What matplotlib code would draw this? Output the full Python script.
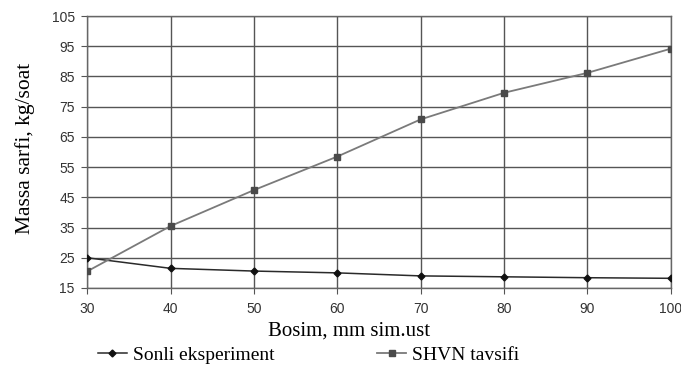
import matplotlib
matplotlib.use("Agg")
import matplotlib.pyplot as plt

pressure = [30, 40, 50, 60, 70, 80, 90, 100]
sonli = [25.0, 21.5, 20.6, 20.0, 19.0, 18.7, 18.4, 18.2]
shvn = [20.5, 35.5, 47.4, 58.5, 70.8, 79.6, 86.2, 94.2]
yticks = [15, 25, 35, 45, 55, 65, 75, 85, 95, 105]
xticks = [30, 40, 50, 60, 70, 80, 90, 100]

fig = plt.figure(figsize=(6.81, 3.65), dpi=100)
ax = fig.add_axes([0.128, 0.211, 0.857, 0.745])

l1, = ax.plot(pressure, sonli, color="#2a2a2a", lw=1.1, marker="D", ms=3.5,
              mfc="#111111", mec="#111111", label="Sonli eksperiment", zorder=3)
l2, = ax.plot(pressure, shvn, color="#7a7a7a", lw=1.3, marker="s", ms=5,
              mfc="#4a4a4a", mec="#4a4a4a", label="SHVN tavsifi", zorder=3)

ax.set_xlim(30, 100)
ax.set_ylim(15, 105)
ax.set_xticks(xticks)
ax.set_yticks(yticks)
ax.grid(True, color="#555555", lw=1.0)
for s in ax.spines.values():
    s.set_color("#666666")
    s.set_linewidth(1.0)
ax.tick_params(axis="both", length=4, color="#555555", labelcolor="#333333",
               labelsize=10)
ax.tick_params(axis="x", pad=6)
ax.tick_params(axis="y", pad=5)
for lab in ax.get_xticklabels() + ax.get_yticklabels():
    lab.set_family("Liberation Sans")

fig.text(349 / 681, 1 - 331 / 365, "Bosim, mm sim.ust", family="Liberation Serif",
         fontsize=15, ha="center", va="center")
fig.text(25 / 681, 1 - 148 / 365, "Massa sarfi, kg/soat", family="Liberation Serif",
         fontsize=15.5, ha="center", va="center", rotation=90)

fig.legend(handles=[l1, l2], loc="center", bbox_to_anchor=(0.453, 0.027), ncol=2,
           frameon=False, prop={"family": "Liberation Serif", "size": 14},
           columnspacing=5.3, handlelength=1.5, handletextpad=0.3,
           borderpad=0, borderaxespad=0)

fig.savefig("out.png", dpi=100)
